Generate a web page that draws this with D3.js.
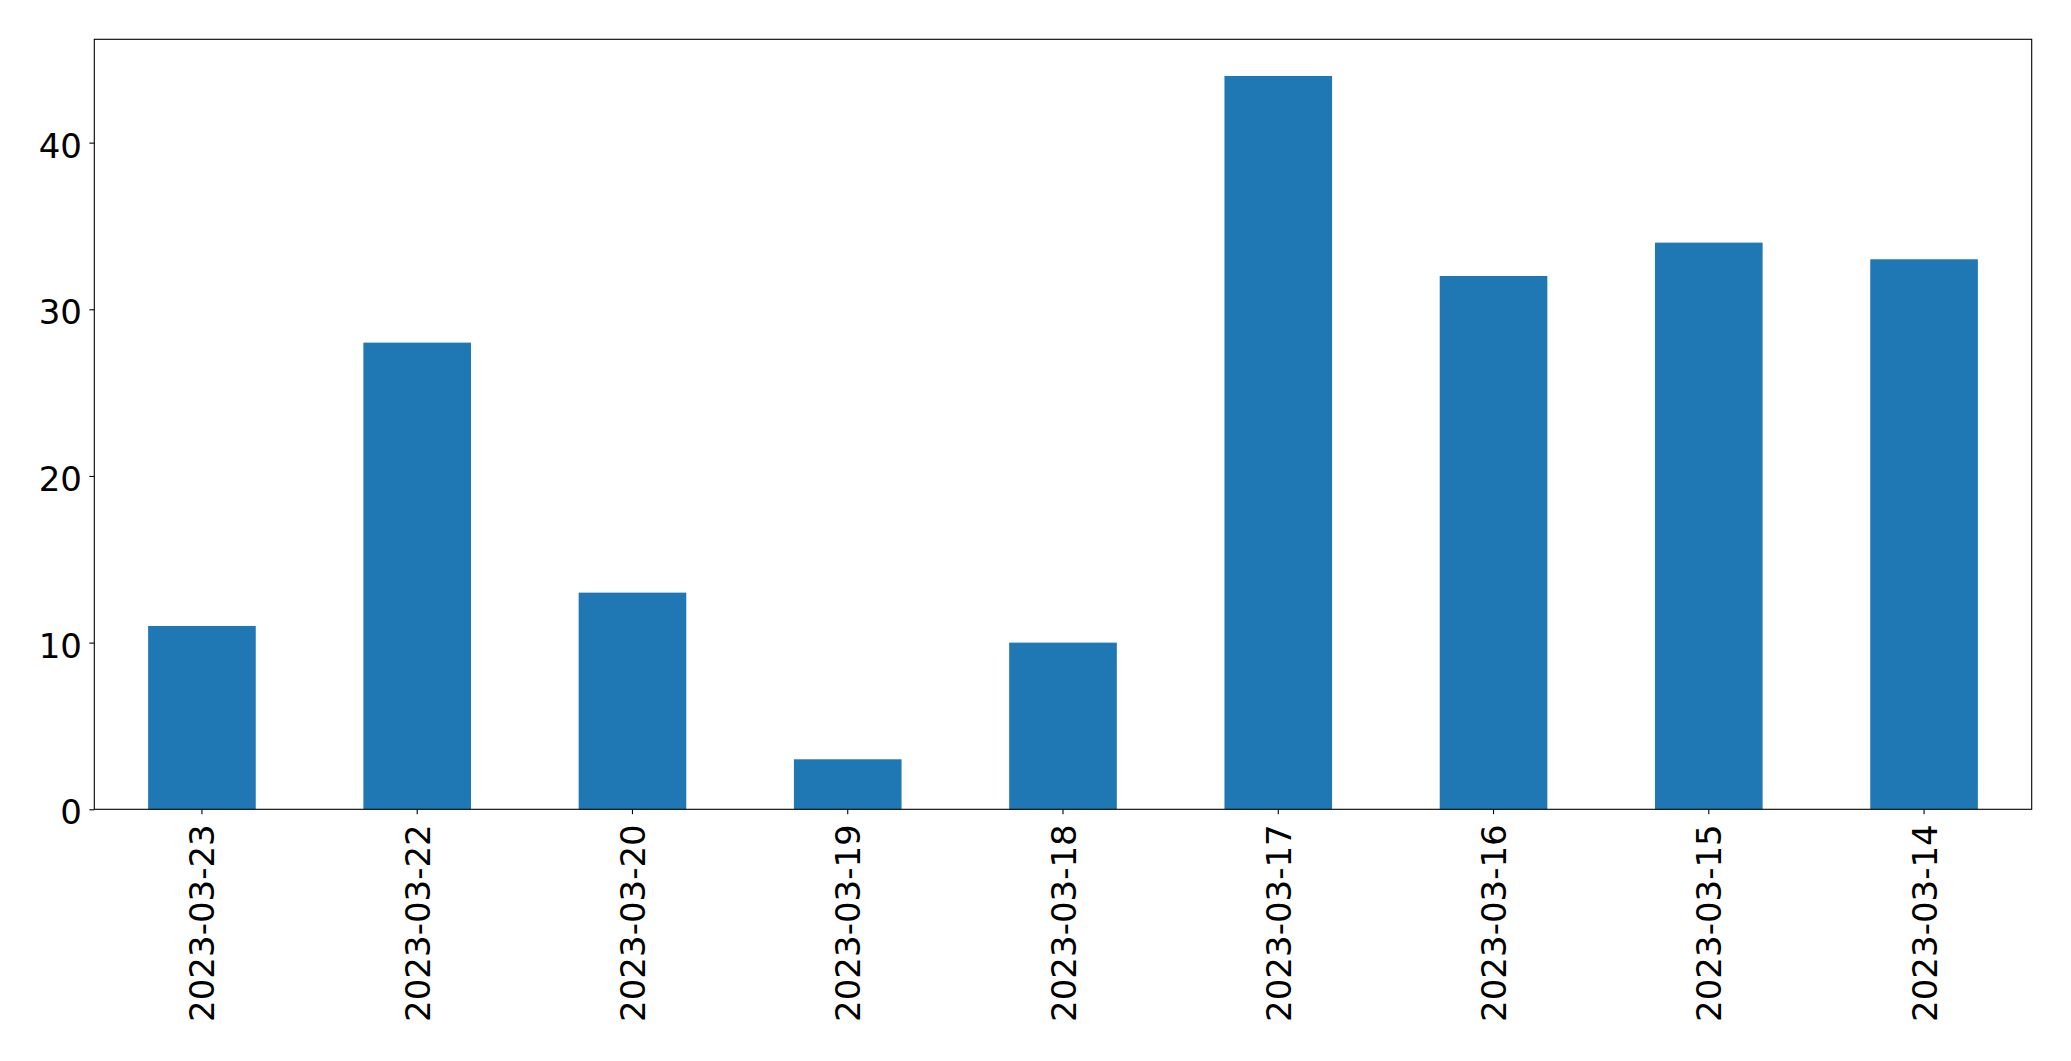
<!DOCTYPE html>
<html>
<head>
<meta charset="utf-8">
<script src="https://cdn.jsdelivr.net/npm/d3@7"></script>
<style>
  html, body { margin: 0; padding: 0; background: #fff; }
  svg { display: block; }
  text { font-family: "DejaVu Sans", sans-serif; fill: #000; }
</style>
</head>
<body>
<svg id="chart" width="2071" height="1061"></svg>
<script>
const categories = ["2023-03-23", "2023-03-22", "2023-03-20", "2023-03-19", "2023-03-18", "2023-03-17", "2023-03-16", "2023-03-15", "2023-03-14"];
const values = [11, 28, 13, 3, 10, 44, 32, 34, 33];
const yTicks = [0, 10, 20, 30, 40];

const mLeft = 94.3, mRight = 2031.7, mTop = 39.3, mBottom = 809.3;
const fontSize = 34;
const tickLen = 4.9;

const svg = d3.select("#chart");

const x = d3.scaleBand().domain(categories).range([mLeft, mRight]).paddingInner(0.5).paddingOuter(0.25);
const y = d3.scaleLinear().domain([0, d3.max(values) * 1.05]).range([mBottom, mTop]);

// bars
svg.append("g").selectAll("rect")
  .data(categories.map((c, i) => ({c, v: values[i]})))
  .join("rect")
  .attr("x", d => x(d.c))
  .attr("width", x.bandwidth())
  .attr("y", d => y(d.v))
  .attr("height", d => y(0) - y(d.v))
  .attr("fill", "#1f77b4");

// frame
svg.append("rect")
  .attr("x", mLeft).attr("y", mTop)
  .attr("width", mRight - mLeft).attr("height", mBottom - mTop)
  .attr("fill", "none").attr("stroke", "#000").attr("stroke-width", 1.1);

// y axis
const yAxis = d3.axisLeft(y).tickValues(yTicks).tickSize(tickLen).tickPadding(0).tickFormat(d3.format("d"));
const gy = svg.append("g").attr("transform", `translate(${mLeft},0)`).call(yAxis);
gy.select(".domain").remove();
gy.selectAll(".tick line").attr("stroke", "#000").attr("stroke-width", 1.1);
gy.selectAll(".tick text")
  .attr("x", -tickLen - 7.5)
  .attr("dy", "14.5px")
  .attr("text-anchor", "end")
  .style("font-family", "'DejaVu Sans', sans-serif")
  .style("font-size", fontSize + "px")
  .attr("fill", "#000");

// x axis
const xAxis = d3.axisBottom(x).tickSize(tickLen).tickPadding(0);
const gx = svg.append("g").attr("transform", `translate(0,${mBottom})`).call(xAxis);
gx.select(".domain").remove();
gx.selectAll(".tick line").attr("stroke", "#000").attr("stroke-width", 1.1);
gx.selectAll(".tick text")
  .attr("y", 0)
  .attr("x", 0)
  .attr("transform", "translate(0,15) rotate(-90)")
  .attr("dy", "12.5px")
  .attr("text-anchor", "end")
  .style("font-family", "'DejaVu Sans', sans-serif")
  .style("font-size", fontSize + "px")
  .attr("fill", "#000");
</script>
</body>
</html>
